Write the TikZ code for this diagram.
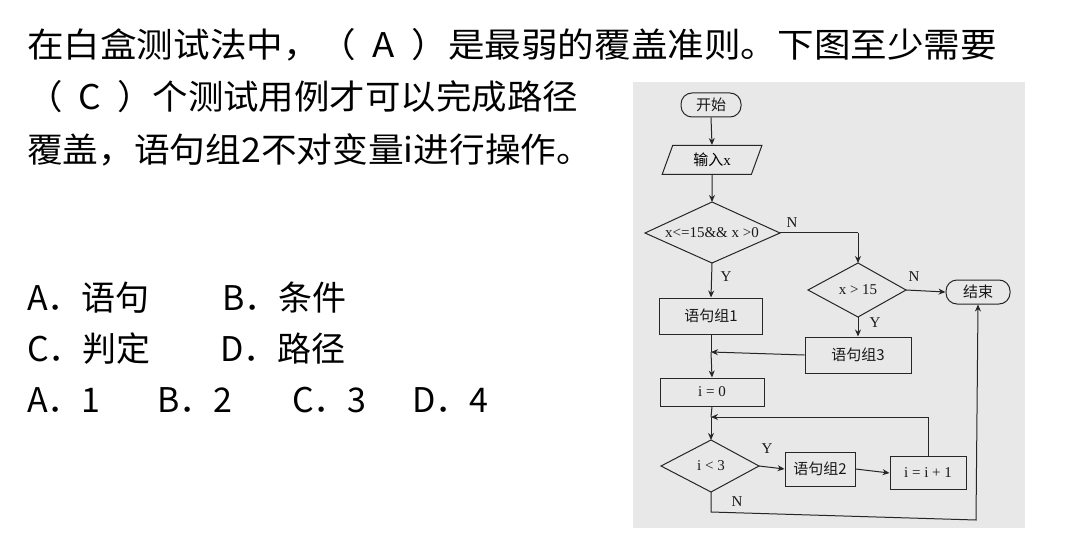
\documentclass[tikz,border=0pt]{standalone}
\usepackage{fontspec}
\usepackage{graphicx}
\usetikzlibrary{shapes.geometric,arrows.meta}
\setmainfont{Liberation Serif}
\newfontfamily\cjk{Noto Sans CJK SC}
\begin{document}
\begin{tikzpicture}[x=1pt,y=-1pt,
  q/.style={anchor=west,inner sep=0pt,font=\cjk\fontsize{34}{34}\selectfont},
  ln/.style={draw=black!85,line width=1pt},
  arr/.style={ln,-{Stealth[length=7pt,width=6pt]}},
  fc/.style={font=\fontsize{15}{15}\selectfont,text=black!90},
  cj/.style={font=\cjk\fontsize{15}{15}\selectfont,text=black!90},
  term/.style={ln,rounded corners=11pt,minimum width=60pt,minimum height=24pt,inner sep=0pt},
  boxx/.style={ln,minimum width=103pt,minimum height=36pt,inner sep=0pt},
  lab/.style={font=\fontsize{15}{15}\selectfont,text=black!90,inner sep=0pt}]
\useasboundingbox (0,0) rectangle (1067,553);
\fill[white] (0,0) rectangle (1067,553);
\fill[black!9] (633,82) rectangle (1025,528);
\node[q] (t1) at (27,45) {\resizebox{970pt}{\height}{在白盒测试法中，（\ \ A\ \ ）是最弱的覆盖准则。下图至少需要}};
\node[q] (t2) at (27,97) {\resizebox{551pt}{\height}{（\ \ C\ \ ）个测试用例才可以完成路径}};
\node[q] (t3) at (27,150) {\resizebox{565pt}{\height}{覆盖，语句组2不对变量i进行操作。}};
\node[q] (oa) at (27,298) {A．语句};
\node[q] (ob) at (222,298) {B．条件};
\node[q] (oc) at (27,349) {C．判定};
\node[q] (od) at (220,349) {D．路径};
\node[q] (p1) at (27,400) {A．1};
\node[q] (p2) at (157,400) {B．2};
\node[q] (p3) at (292,400) {C．3};
\node[q] (p4) at (412,400) {D．4};
% flowchart
\node[term,cj] (start) at (711,105) {开始};
\node[ln,trapezium,trapezium left angle=70,trapezium right angle=110,minimum width=90pt,minimum height=29pt,inner sep=0pt,font=\cjk\fontsize{15}{15}\selectfont] (in) at (712,160) {输入\fontspec{Liberation Serif}x};
\draw[ln] (645,233) -- (712,202) -- (780,233) -- (712,263) -- cycle;
\node[fc] (d1) at (712,233) {x<=15{\&}{\&} x >0};
\draw[ln] (808,290) -- (858,263) -- (906,290) -- (858,317) -- cycle;
\node[fc] (d2) at (858,290) {x > 15};
\node[term,cj,minimum width=64pt] (end) at (978,292) {结束};
\node[boxx,cj] (s1) at (711,316) {语句组1};
\node[boxx,cj,minimum width=106pt] (s3) at (858,355) {语句组3};
\node[boxx,fc,minimum height=28pt,minimum width=104pt] (i0) at (712,392) {i = 0};
\draw[ln] (661,466) -- (711,440) -- (759,466) -- (711,492) -- cycle;
\node[fc] (d3) at (711,466) {i < 3};
\node[boxx,cj,minimum width=70pt,minimum height=34pt] (s2) at (820,469) {语句组2};
\node[boxx,fc,minimum width=76pt,minimum height=33pt] (inc) at (928,473) {i = i + 1};
\coordinate (m1) at (711,352);
\coordinate (m2) at (711,417);
% connectors
\draw[arr] (start.south) -- (in.north);
\draw[arr] (in.south) -- (712,202);
\draw[arr] (712,263) -- (s1.north);
\draw[ln] (780,233) -- (858,233);
\draw[arr] (858,233) -- (858,263);
\draw[arr] (906,290) -- (end.west);
\draw[arr] (858,317) -- (s3.north);
\draw[ln] (s1.south) -- (m1);
\draw[arr] (s3.west) -- (m1);
\draw[arr] (m1) -- (i0.north);
\draw[ln] (i0.south) -- (m2);
\draw[arr] (m2) -- (711,440);
\draw[arr] (inc.north) |- (m2);
\draw[arr] (759,466) -- (s2.west);
\draw[arr] (s2.east) -- (inc.west);
\draw[arr] (711,492) -- (711,512) -- (976,520) -- (end.south);
\node[lab] at (792,223) {N};
\node[lab] at (914,277) {N};
\node[lab] at (726,277) {Y};
\node[lab] at (875,323) {Y};
\node[lab] at (767,449) {Y};
\node[lab] at (737,502) {N};
\end{tikzpicture}
\end{document}
